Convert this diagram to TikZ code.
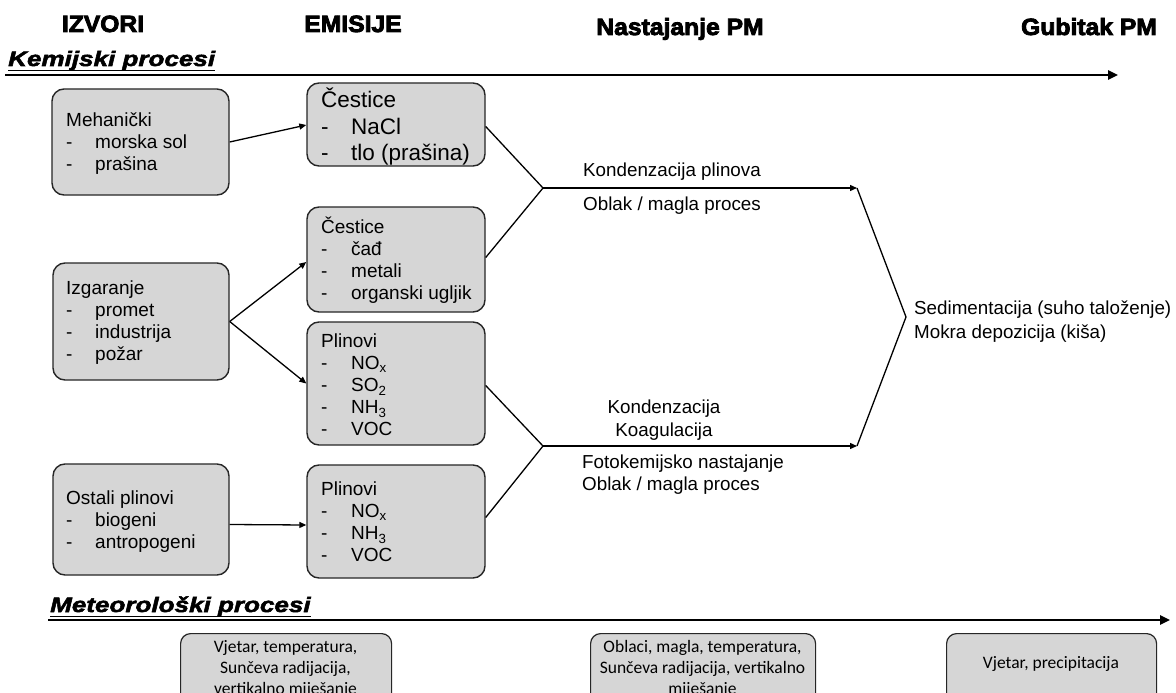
\documentclass[tikz,border=0pt]{standalone}
\usepackage{fontspec}
\setmainfont{Liberation Sans}
\newfontfamily\headfont[FakeBold=3.5,FakeStretch=1.05]{Liberation Sans Bold}
\newfontfamily\secfont[FakeBold=2.5,FakeStretch=1.24]{Liberation Sans Bold Italic}
\newfontfamily\calfont{Carlito}
\usetikzlibrary{arrows.meta,calc}
\newcommand\litem[1]{\makebox[29pt][l]{-}#1}
\newcommand\ritem[1]{\makebox[30pt][l]{-}#1}
\tikzset{
  box/.style={draw=black!85, line width=1.4pt, fill=black!16, rounded corners=12pt, inner sep=0pt},
  metbox/.style={draw=black!85, line width=1.2pt, fill=black!16, rounded corners=10pt, inner sep=0pt},
  txt/.style={inner sep=0pt, align=left, font=\fontsize{19}{22}\selectfont, anchor=west},
  bigtxt/.style={inner sep=0pt, align=left, font=\fontsize{22.5}{26.5}\selectfont, anchor=west},
  mtxt/.style={inner sep=0pt, align=center, font=\calfont\fontsize{17.5}{21}\selectfont},
  lbl/.style={inner sep=0pt, font=\fontsize{18.8}{22}\selectfont},
  head/.style={inner sep=0pt, font=\headfont\fontsize{23.5}{27}\selectfont, anchor=base},
  sec/.style={inner sep=0pt, font=\secfont\fontsize{21}{24}\selectfont, anchor=base west},
  arr/.style={line width=1.3pt, -{Triangle[length=7pt,width=6pt]}},
  ln/.style={line width=1.3pt},
  axis/.style={line width=2.4pt, -{Triangle[length=10pt,width=9pt]}}
}
\begin{document}
\begin{tikzpicture}[x=1pt,y=-1pt]
\clip (0,0) rectangle (1176,693);
\fill[white] (0,0) rectangle (1176,693);

% headings
\node[head] (h1) at (103,32) {IZVORI};
\node[head] (h2) at (353,32) {EMISIJE};
\node[head] (h3) at (680,35) {Nastajanje PM};
\node[head] (h4) at (1089,35) {Gubitak PM};

% section: Kemijski procesi
\node[sec] (s1) at (8,66) {Kemijski procesi};
\coordinate (a1s) at (5,75);
\coordinate (a1e) at (1118,75);
\draw[line width=1.4pt] ($(s1.base west)+(0,4.5)$) -- ($(s1.base east)+(0,4.5)$);
\draw[axis] (a1s) -- (a1e);

% boxes
\node[box, minimum width=177pt, minimum height=106pt] (meh) at (140.5,142) {};
\node[box, minimum width=178pt, minimum height=83pt] (ces1) at (396,124.5) {};
\node[box, minimum width=178pt, minimum height=105pt] (ces2) at (396,259.5) {};
\node[box, minimum width=176pt, minimum height=117pt] (izg) at (141,321.5) {};
\node[box, minimum width=178pt, minimum height=123pt] (pli1) at (396,383.5) {};
\node[box, minimum width=176pt, minimum height=111pt] (ost) at (141,519.5) {};
\node[box, minimum width=178pt, minimum height=113pt] (pli2) at (396,521.5) {};

% box texts
\node[txt] (tmeh) at (66,144) {Mehanički\\\litem{morska sol}\\\litem{prašina}};
\node[bigtxt] (tces1) at (321,127) {Čestice\\\ritem{NaCl}\\\ritem{tlo (prašina)}};
\node[txt] (tces2) at (321,260) {Čestice\\\ritem{čađ}\\\ritem{metali}\\\ritem{organski ugljik}};
\node[txt] (tizg) at (66,323) {Izgaranje\\\litem{promet}\\\litem{industrija}\\\litem{požar}};
\node[txt] (tpli1) at (321,385) {Plinovi\\\ritem{NO\textsubscript{x}}\\\ritem{SO\textsubscript{2}}\\\ritem{NH\textsubscript{3}}\\\ritem{VOC}};
\node[txt] (tost) at (66,522) {Ostali plinovi\\\litem{biogeni}\\\litem{antropogeni}};
\node[txt] (tpli2) at (321,522) {Plinovi\\\ritem{NO\textsubscript{x}}\\\ritem{NH\textsubscript{3}}\\\ritem{VOC}};

% arrows from sources
\draw[arr] (meh.east) -- ($(ces1.west)+(0,0.5)$);
\draw[arr] (izg.east) -- ($(ces2.west)+(0,2.5)$);
\draw[arr] (izg.east) -- (pli1.west);
\draw[arr] ($(ost.east)+(0,5)$) -- ($(pli2.west)+(0,3.5)$);

% junctions
\coordinate (j1) at (543,188);
\coordinate (j2) at (543,446);
\coordinate (e1) at (857,188);
\coordinate (e2) at (857,446);
\coordinate (tip) at (906,317);
\draw[ln] ($(ces1.east)+(0,2)$) -- (j1);
\draw[ln] ($(ces2.east)+(0,-2)$) -- (j1);
\draw[ln] ($(pli1.east)+(0,2)$) -- (j2);
\draw[ln] ($(pli2.east)+(0,-4)$) -- (j2);
\draw[arr] (j1) -- (e1);
\draw[arr] (j2) -- (e2);
\draw[ln] (e1) -- (tip) -- (e2);

% process labels
\node[lbl] (k1) at (672,172) {Kondenzacija plinova};
\node[lbl] (k2) at (672,206) {Oblak / magla proces};
\node[lbl] (k3) at (664,409) {Kondenzacija};
\node[lbl] (k4) at (664,432) {Koagulacija};
\node[lbl, anchor=west] (k5) at (582,464) {Fotokemijsko nastajanje};
\node[lbl, anchor=west] (k6) at (582,486) {Oblak / magla proces};
\node[lbl, anchor=west] (g1) at (914,310) {Sedimentacija (suho taloženje)};
\node[lbl, anchor=west] (g2) at (914,334) {Mokra depozicija (kiša)};

% meteorological section
\node[sec] (s2) at (50,612) {Meteorološki procesi};
\coordinate (a2s) at (48,620);
\coordinate (a2e) at (1170,620);
\draw[line width=1.4pt] ($(s2.base west)+(0,4.5)$) -- ($(s2.base east)+(0,4.5)$);
\draw[axis] (a2s) -- (a2e);

\node[metbox, minimum width=211pt, minimum height=80pt, anchor=north west] (m1) at (180,633) {};
\node[metbox, minimum width=225pt, minimum height=80pt, anchor=north west] (m2) at (590,633) {};
\node[metbox, minimum width=210pt, minimum height=80pt, anchor=north west] (m3) at (946,633) {};
\node[mtxt, anchor=north] (tm1) at (285.5,640) {Vjetar, temperatura,\\Sunčeva radijacija,\\vertikalno miješanje};
\node[mtxt, anchor=north] (tm2) at (702.5,640) {Oblaci, magla, temperatura,\\Sunčeva radijacija, vertikalno\\miješanje};
\node[mtxt] (tm3) at (1051,664) {Vjetar, precipitacija};
\end{tikzpicture}
\end{document}
